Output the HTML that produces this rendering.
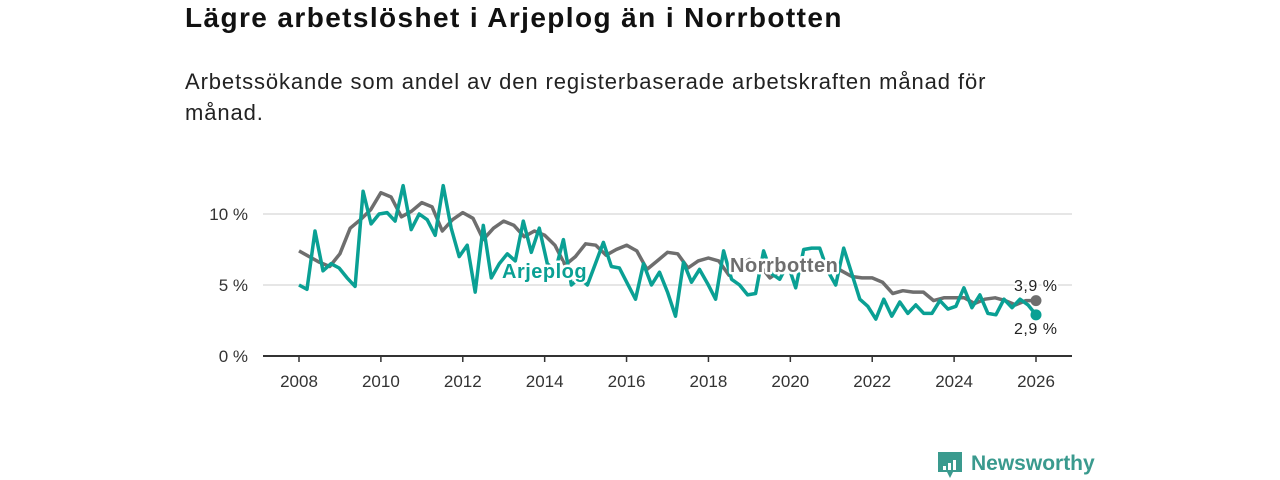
<!DOCTYPE html>
<html><head><meta charset="utf-8">
<style>
body{margin:0;background:#fff;font-family:"Liberation Sans",sans-serif;}
#wrap{position:relative;width:1280px;height:480px;overflow:hidden;}
h1{position:absolute;left:185px;top:2px;margin:0;font-size:28px;letter-spacing:1.4px;font-weight:bold;color:#111;white-space:nowrap;}
p.sub{position:absolute;left:185px;top:66px;margin:0;font-size:22px;letter-spacing:0.9px;line-height:31px;color:#222;width:850px;}
svg{position:absolute;left:0;top:0;}
</style></head><body>
<div id="wrap">
<h1>Lägre arbetslöshet i Arjeplog än i Norrbotten</h1>
<p class="sub">Arbetssökande som andel av den registerbaserade arbetskraften månad för månad.</p>
<svg id="chart" width="1280" height="480"></svg>
</div>
<script>
const norrbotten=[7.4,7.0,6.6,6.3,7.2,9.0,9.6,10.3,11.5,11.2,9.8,10.2,10.8,10.5,8.8,9.6,10.1,9.7,8.2,9.0,9.5,9.2,8.4,8.8,8.5,7.8,6.4,7.0,7.9,7.8,7.1,7.5,7.8,7.4,6.1,6.7,7.3,7.2,6.2,6.7,6.9,6.7,5.7,6.3,6.8,6.4,5.5,6.0,6.6,6.5,6.4,6.0,6.5,6.0,5.6,5.5,5.5,5.2,4.4,4.6,4.5,4.5,3.9,4.1,4.1,4.1,3.7,4.0,4.1,3.9,3.6,3.9,3.9];
const arjeplog=[5.0,4.7,8.8,6.0,6.5,6.2,5.5,4.9,11.6,9.3,10.0,10.1,9.5,12.0,8.9,10.0,9.6,8.5,12.0,9.0,7.0,7.8,4.5,9.2,5.5,6.5,7.2,6.7,9.5,7.3,9.0,6.5,6.0,8.2,5.0,5.5,5.0,6.5,8.0,6.3,6.2,5.1,4.0,6.5,5.0,5.9,4.5,2.8,6.6,5.2,6.1,5.1,4.0,7.4,5.4,5.0,4.3,4.4,7.4,5.8,5.4,6.5,4.8,7.5,7.6,7.6,6.0,5.0,7.6,5.8,4.0,3.5,2.6,4.0,2.8,3.8,3.0,3.6,3.0,3.0,3.9,3.3,3.5,4.8,3.4,4.3,3.0,2.9,4.0,3.4,4.0,3.6,2.9];
const xTicks=[2008,2010,2012,2014,2016,2018,2020,2022,2024,2026];
const yTicks=[0,5,10];
const startYear=2008,endYear=2026;
const NS="http://www.w3.org/2000/svg";
const svg=document.getElementById('chart');
const x=v=>299+(v-2008)*(1036-299)/18;
const y=v=>356-v*14.2;
function el(t,a,txt){const e=document.createElementNS(NS,t);for(const k in a)e.setAttribute(k,a[k]);if(txt!==undefined)e.textContent=txt;svg.appendChild(e);return e;}
yTicks.forEach(t=>{
 if(t>0){const g=el('line',{x1:263,x2:1072,y1:y(t),y2:y(t),stroke:'#ddd','stroke-width':1.5});
 
 }
 const l=el('text',{x:248,y:y(t)+6,'text-anchor':'end','font-size':17,fill:'#333'},t+' %');
 
 
});
const ax=el('line',{x1:263,x2:1072,y1:356,y2:356,stroke:'#333','stroke-width':2});


xTicks.forEach(t=>{
 const tk=el('line',{x1:x(t),x2:x(t),y1:356,y2:362,stroke:'#333','stroke-width':1.5});
 
 
 const l=el('text',{x:x(t),y:387,'text-anchor':'middle','font-size':17,fill:'#333'},t);
 
 
});
function line(arr,color,name){
 const step=(endYear-startYear)/(arr.length-1);
 const d=arr.map((v,i)=>(i?'L':'M')+x(startYear+i*step).toFixed(1)+','+y(v).toFixed(1)).join('');
 const p=el('path',{d:d,fill:'none',stroke:color,'stroke-width':3.5,'stroke-linejoin':'round'});
 
 
 const c=el('circle',{cx:x(endYear),cy:y(arr[arr.length-1]),r:5.5,fill:color});
 
 
}
line(norrbotten,'#6e6e6e','norrbotten');
line(arjeplog,'#0aa094','arjeplog');
function lbl(tx,xx,yy,color,name,extra){
 const t=el('text',Object.assign({x:xx,y:yy,'font-size':20,'font-weight':'bold',fill:color,stroke:'#fff','stroke-width':5,'paint-order':'stroke','stroke-linejoin':'round','letter-spacing':0.5},extra||{}),tx);
 
 
}
lbl('Arjeplog',502,278,'#0aa094','arjeplog-label');
lbl('Norrbotten',730,272,'#6e6e6e','norrbotten-label');
const fmt=v=>String(v).replace('.',',')+' %';
lbl(fmt(norrbotten[norrbotten.length-1]),1014,291,'#222','norrbotten-end-value',{'font-weight':'normal','font-size':16,'stroke-width':4});
lbl(fmt(arjeplog[arjeplog.length-1]),1014,334,'#222','arjeplog-end-value',{'font-weight':'normal','font-size':16,'stroke-width':4});
const lg=el('g',{});


const r=document.createElementNS(NS,'path');
r.setAttribute('d','M938,452 h24 v20 h-9 l-3,6 l-3,-6 h-9 z');
r.setAttribute('fill','#3a9a8e');
lg.appendChild(r);
[[943,466,4],[948,463,7],[953,460,10]].forEach(b=>{const q=document.createElementNS(NS,'rect');q.setAttribute('x',b[0]);q.setAttribute('y',b[1]);q.setAttribute('width',3);q.setAttribute('height',b[2]);q.setAttribute('fill','#fff');lg.appendChild(q);});
const lt=document.createElementNS(NS,'text');
lt.setAttribute('x',971);lt.setAttribute('y',470);lt.setAttribute('font-size',21);lt.setAttribute('font-weight','bold');lt.setAttribute('fill','#3a9a8e');
lt.textContent='Newsworthy';
lg.appendChild(lt);
</script>
</body></html>
